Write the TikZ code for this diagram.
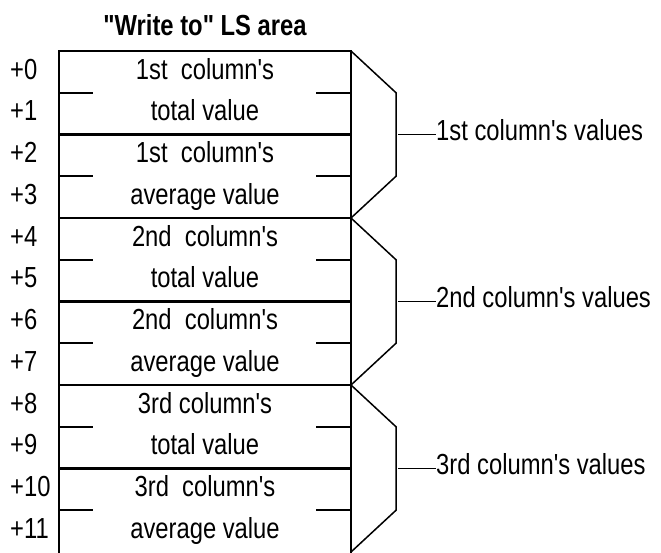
\documentclass[tikz,border=0pt]{standalone}
\usepackage{fontspec}
\setmainfont[FakeStretch=0.82, Ligatures=TeXOff]{Liberation Sans}

\begin{document}
\begin{tikzpicture}[x=1pt, y=-1pt, line cap=rect]
  \tikzset{
    txt/.style={font=\fontsize{29}{34}\selectfont, inner sep=0pt},
    cell/.style={txt, anchor=base},
    offs/.style={txt, anchor=base west},
    grplabel/.style={txt, anchor=base west},
    boxline/.style={line width=2.6pt},
    sepline/.style={line width=2.2pt},
    brace/.style={line width=1.5pt, line cap=butt}
  }
  \useasboundingbox (0,0) rectangle (661,552);
  % box: x 59..351, rows 41.75 high from y=51
  \node[txt, font=\fontsize{29}{34}\selectfont\bfseries, anchor=base] (title) at (205,35) {"Write to" LS area};
  \coordinate (TL) at (59,51);
  \coordinate (TR) at (351,51);
  \coordinate (BL) at (59,552);
  \coordinate (BR) at (351,552);
  \draw[boxline] (BL)--(TL)--(TR)--(BR);
  % full lines every 2 rows, ticks in between
  \foreach \k in {1,...,5} {
    \draw[sepline] (59,{51+83.5*\k})--(351,{51+83.5*\k});
  }
  \foreach \k in {0,...,5} {
    \draw[sepline] (59,{92.75+83.5*\k})--(92,{92.75+83.5*\k});
    \draw[sepline] (317,{92.75+83.5*\k})--(351,{92.75+83.5*\k});
  }
  % offsets
  \foreach \i in {0,...,11} {
    \node[offs] (off\i) at (10,{79+41.75*\i}) {+\i};
  }
  % cell texts
  \foreach \i/\t in {0/1st~ column's, 1/total value, 2/1st~ column's, 3/average value,
                     4/2nd~ column's, 5/total value, 6/2nd~ column's, 7/average value,
                     8/3rd column's, 9/total value, 10/3rd~ column's, 11/average value} {
    \node[cell] (cell\i) at (205,{79+41.75*\i}) {\t};
  }
  % brackets for each column
  \foreach \g/\t in {0/1st, 1/2nd, 2/3rd} {
    \coordinate (g\g a) at (351,{51+167*\g});
    \coordinate (g\g b) at (396,{92.75+167*\g});
    \coordinate (g\g c) at (396,{176.25+167*\g});
    \coordinate (g\g d) at (351,{218+167*\g});
    \coordinate (g\g m) at (398,{134.5+167*\g});
    \node[grplabel] (grp\g) at (436,{140+167*\g}) {\t{} column's values};
    \draw[brace] (g\g a)--(g\g b)--(g\g c)--(g\g d);
    \draw[brace] (g\g m)--(grp\g.west |- g\g m) ++(-7,0);
  }
\end{tikzpicture}
\end{document}
